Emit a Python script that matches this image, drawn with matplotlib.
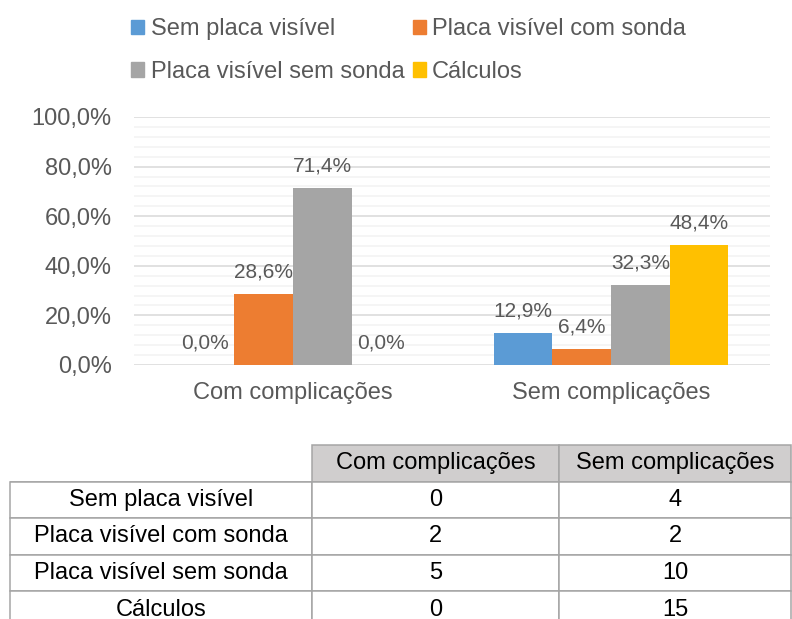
import matplotlib
matplotlib.use("Agg")
import matplotlib.pyplot as plt
import numpy as np
from matplotlib.patches import Patch
from matplotlib.ticker import MultipleLocator, FuncFormatter

plt.rcParams['font.family'] = ['Liberation Sans', 'DejaVu Sans']

# data
categories = ["Com complicações", "Sem complicações"]
series_names = ["Sem placa visível", "Placa visível com sonda",
                "Placa visível sem sonda", "Cálculos"]
series_colors = ["#5b9bd5", "#ed7d31", "#a5a5a5", "#ffc000"]
pct_com = [0.0, 28.6, 71.4, 0.0]
pct_sem = [12.9, 6.4, 32.3, 48.4]
count_com = [0, 2, 5, 0]
count_sem = [4, 2, 10, 15]

TXT = "#595959"

fig = plt.figure(figsize=(7.92, 6.19), dpi=100)
ax = fig.add_axes([134/792, 1-365/619, 636/792, 248/619])

x = np.arange(len(categories))
width = 0.1846
values = np.array([pct_com, pct_sem]).T  # series x category
for i, name in enumerate(series_names):
    xs = x + (i - 1.5) * width
    bars = ax.bar(xs, values[i], width, color=series_colors[i], zorder=3, label=name)
    for xx, v in zip(xs, values[i]):
        ax.annotate(f"{v:.1f}%".replace(".", ","), (xx, v), xytext=(0, 16),
                    textcoords="offset points", ha="center", va="center",
                    fontsize=15, color=TXT)

ax.set_xlim(-0.5, 1.5)
ax.set_ylim(0, 100)
ax.yaxis.set_major_locator(MultipleLocator(20))
ax.yaxis.set_minor_locator(MultipleLocator(4))
ax.yaxis.set_major_formatter(FuncFormatter(lambda v, p: f"{v:.1f}%".replace(".", ",")))
ax.grid(which="major", axis="y", color="#d9d9d9", lw=1.1, zorder=0)
ax.grid(which="minor", axis="y", color="#f2f2f2", lw=1.1, zorder=0)
ax.set_xticks(x)
ax.set_xticklabels(categories)
ax.tick_params(axis="both", which="both", length=0, labelsize=17, labelcolor=TXT)
ax.tick_params(axis="y", pad=16)
ax.tick_params(axis="x", pad=12.5)
for s in ax.spines.values():
    s.set_visible(False)

# legend, filled row by row
order = [0, 2, 1, 3]
handles = [Patch(color=series_colors[i]) for i in order]
labels = [series_names[i] for i in order]
fig.legend(handles, labels, ncol=2, loc="upper left",
           bbox_to_anchor=(131/792, 1-18/619), frameon=False, fontsize=17,
           handlelength=0.55, handleheight=0.55, handletextpad=0.28,
           columnspacing=0.35, labelspacing=0.88, borderpad=0, borderaxespad=0,
           labelcolor=TXT)

# data table
tax = fig.add_axes([10/792, 1-628/619, 781/792, 183/619])
tax.axis("off")
cell_text = [["", categories[0], categories[1]]]
for n, a, b in zip(series_names, count_com, count_sem):
    cell_text.append([n, str(a), str(b)])
tbl = tax.table(cellText=cell_text, cellLoc="center", bbox=[0, 0, 1, 1])
tbl.auto_set_font_size(False)
col_w = [302, 247, 232]
for (r, c), cell in tbl.get_celld().items():
    cell.set_width(col_w[c])
    cell.set_edgecolor("#a5a5a5")
    cell.set_linewidth(1.1)
    cell.get_text().set_fontsize(17)
    cell.get_text().set_color("black")
    if r == 0 and c > 0:
        cell.set_facecolor("#d0cece")
    if r == 0 and c == 0:
        cell.visible_edges = "B"

fig.savefig("out.png", dpi=100)
